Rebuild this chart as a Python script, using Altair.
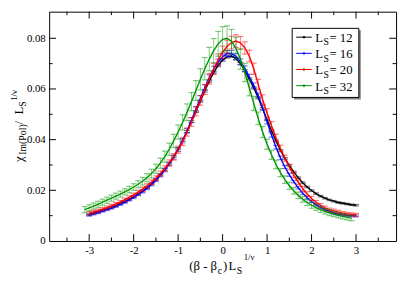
import altair as alt
import pandas as pd

# ---------------- data ----------------
series_names = ["12", "16", "20", "32"]
series_colors = ["#000000", "#0000ff", "#ff0000", "#009600"]

x_common = [-3.0, -2.9, -2.8, -2.7, -2.6, -2.5, -2.4, -2.3, -2.2, -2.1,
            -2.0, -1.9, -1.8, -1.7, -1.6, -1.5, -1.4, -1.3, -1.2, -1.1,
            -1.0, -0.9, -0.8, -0.7, -0.6, -0.5, -0.4, -0.3, -0.2, -0.1,
            0.0, 0.1, 0.2, 0.3, 0.4, 0.5, 0.6, 0.7, 0.8, 0.9,
            1.0, 1.1, 1.2, 1.3, 1.4, 1.5, 1.6, 1.7, 1.8, 1.9,
            2.0, 2.1, 2.2, 2.3, 2.4, 2.5, 2.6, 2.7, 2.8, 2.9, 3.0]
x_green = [-3.1, -3.0, -2.9, -2.8, -2.7, -2.6, -2.5, -2.4, -2.3, -2.2,
           -2.1, -2.0, -1.9, -1.8, -1.7, -1.6, -1.5, -1.4, -1.3, -1.2,
           -1.1, -1.0, -0.9, -0.8, -0.7, -0.6, -0.5, -0.4, -0.3, -0.2,
           -0.1, 0.0, 0.1, 0.2, 0.3, 0.4, 0.5, 0.6, 0.7, 0.8,
           0.9, 1.0, 1.1, 1.2, 1.3, 1.4, 1.5, 1.6, 1.7, 1.8,
           1.9, 2.0, 2.1, 2.2, 2.3, 2.4, 2.5, 2.6, 2.7, 2.8, 2.9]

y_12 = [0.0104, 0.0109, 0.0114, 0.0120, 0.0126, 0.0132, 0.0139, 0.0147, 0.0155, 0.0164,
        0.0174, 0.0185, 0.0197, 0.0210, 0.0225, 0.0242, 0.0261, 0.0282, 0.0306, 0.0333,
        0.0363, 0.0396, 0.0432, 0.0471, 0.0511, 0.0552, 0.0593, 0.0631, 0.0665, 0.0693,
        0.0714, 0.0727, 0.0730, 0.0720, 0.0700, 0.0672, 0.0640, 0.0604, 0.0565, 0.0522,
        0.0478, 0.0435, 0.0395, 0.0358, 0.0326, 0.0298, 0.0273, 0.0250, 0.0230, 0.0213,
        0.0199, 0.0187, 0.0177, 0.0169, 0.0162, 0.0157, 0.0152, 0.0149, 0.0146, 0.0143, 0.0141]
e_12 = [0.0003] * 20 + [0.0003, 0.0003, 0.0004, 0.0004, 0.0004, 0.0004, 0.0005, 0.0005, 0.0005, 0.0005,
                        0.0005, 0.0005, 0.0005, 0.0005, 0.0005, 0.0004, 0.0004, 0.0004, 0.0004, 0.0004] + [0.0003] * 21

y_16 = [0.0102, 0.0107, 0.0112, 0.0118, 0.0124, 0.0130, 0.0137, 0.0145, 0.0153, 0.0162,
        0.0172, 0.0183, 0.0195, 0.0208, 0.0223, 0.0240, 0.0259, 0.0280, 0.0304, 0.0331,
        0.0361, 0.0396, 0.0435, 0.0477, 0.0520, 0.0563, 0.0605, 0.0644, 0.0678, 0.0706,
        0.0727, 0.0740, 0.0740, 0.0728, 0.0708, 0.0680, 0.0648, 0.0614, 0.0574, 0.0526,
        0.0470, 0.0418, 0.0370, 0.0328, 0.0292, 0.0261, 0.0234, 0.0210, 0.0189, 0.0171,
        0.0156, 0.0143, 0.0133, 0.0124, 0.0117, 0.0110, 0.0106, 0.0103, 0.0101, 0.0100, 0.0099]
e_16 = [0.0004] * 10 + [0.0004, 0.0004, 0.0005, 0.0005, 0.0005, 0.0006, 0.0006, 0.0007, 0.0007, 0.0008,
                        0.0008, 0.0009, 0.0009, 0.0010, 0.0010, 0.0011, 0.0011, 0.0012, 0.0012, 0.0012,
                        0.0012, 0.0012, 0.0012, 0.0012, 0.0011, 0.0011, 0.0010, 0.0010, 0.0009, 0.0009,
                        0.0008, 0.0008, 0.0007, 0.0007, 0.0006, 0.0006, 0.0005, 0.0005, 0.0005, 0.0005] + [0.0004] * 11

y_20 = [0.0110, 0.0115, 0.0120, 0.0126, 0.0132, 0.0139, 0.0146, 0.0154, 0.0163, 0.0172,
        0.0182, 0.0193, 0.0205, 0.0218, 0.0232, 0.0248, 0.0266, 0.0286, 0.0308, 0.0332,
        0.0360, 0.0392, 0.0430, 0.0470, 0.0512, 0.0555, 0.0598, 0.0640, 0.0680, 0.0715,
        0.0745, 0.0768, 0.0783, 0.0789, 0.0782, 0.0762, 0.0730, 0.0680, 0.0618, 0.0558,
        0.0505, 0.0455, 0.0407, 0.0365, 0.0327, 0.0292, 0.0260, 0.0232, 0.0207, 0.0186,
        0.0168, 0.0153, 0.0141, 0.0131, 0.0123, 0.0119, 0.0114, 0.0110, 0.0107, 0.0105, 0.0103]
e_20 = [0.0006] * 10 + [0.0007, 0.0007, 0.0008, 0.0008, 0.0009, 0.0009, 0.0010, 0.0011, 0.0012, 0.0013,
                        0.0014, 0.0015, 0.0016, 0.0017, 0.0018, 0.0019, 0.0020, 0.0021, 0.0022, 0.0023,
                        0.0024, 0.0025, 0.0025, 0.0025, 0.0025, 0.0024, 0.0023, 0.0022, 0.0020, 0.0019,
                        0.0017, 0.0016, 0.0015, 0.0013, 0.0012, 0.0011, 0.0010, 0.0009, 0.0009, 0.0008,
                        0.0008, 0.0007, 0.0007, 0.0007, 0.0007, 0.0007, 0.0007, 0.0006, 0.0006, 0.0006, 0.0006]

y_32 = [0.0124, 0.0131, 0.0138, 0.0145, 0.0153, 0.0161, 0.0169, 0.0177, 0.0185, 0.0194,
        0.0203, 0.0213, 0.0224, 0.0236, 0.0250, 0.0266, 0.0285, 0.0307, 0.0333, 0.0362,
        0.0395, 0.0430, 0.0468, 0.0508, 0.0550, 0.0594, 0.0638, 0.0680, 0.0718, 0.0751,
        0.0778, 0.0796, 0.0800, 0.0788, 0.0760, 0.0718, 0.0665, 0.0605, 0.0543, 0.0484,
        0.0430, 0.0382, 0.0340, 0.0302, 0.0270, 0.0242, 0.0218, 0.0198, 0.0180, 0.0165,
        0.0152, 0.0141, 0.0132, 0.0124, 0.0117, 0.0111, 0.0106, 0.0101, 0.0097, 0.0093, 0.0090]
e_32 = [0.0012] * 10 + [0.0013, 0.0013, 0.0014, 0.0015, 0.0016, 0.0017, 0.0018,
                        0.0020, 0.0022, 0.0024, 0.0026, 0.0028, 0.0030, 0.0033, 0.0036, 0.0039, 0.0042,
                        0.0044, 0.0046, 0.0048, 0.0049, 0.0050,
                        0.0049, 0.0047, 0.0044, 0.0040, 0.0036, 0.0032, 0.0028, 0.0025, 0.0022, 0.0020,
                        0.0018, 0.0017, 0.0016, 0.0015, 0.0014,
                        0.0013, 0.0013, 0.0012, 0.0012, 0.0012, 0.0011, 0.0011, 0.0011, 0.0011,
                        0.0010, 0.0010, 0.0010, 0.0010, 0.0010]

series_x = [x_common, x_common, x_common, x_green]
series_y = [y_12, y_16, y_20, y_32]
series_e = [e_12, e_16, e_20, e_32]

x_major = [-3, -2, -1, 0, 1, 2, 3]
x_minor = [-3.5, -2.5, -1.5, -0.5, 0.5, 1.5, 2.5, 3.5]
y_major = [0.0, 0.02, 0.04, 0.06, 0.08]
y_minor = [0.01, 0.03, 0.05, 0.07]

# ---------------- layout ----------------
W, H = 354, 234
FONT = "Times New Roman, Liberation Serif, DejaVu Serif, serif"
MAJ, MIN = 7, 3.5

xs = alt.Scale(domain=[-3.9, 3.9], nice=False, zero=False)
ysc = alt.Scale(domain=[0, 0.0905], nice=False, zero=False)
xaxis = alt.Axis(values=x_major, labelExpr="'' + datum.value", ticks=False, domain=False,
                 grid=False, labelFont=FONT, labelFontSize=11, labelColor="black",
                 labelPadding=4, title=None)
yaxis = alt.Axis(values=y_major, labelExpr="datum.value == 0 ? '0' : format(datum.value, '.2f')",
                 ticks=False, domain=False, grid=False, labelFont=FONT, labelFontSize=11,
                 labelColor="black", labelPadding=4, title=None)

dummy = alt.Data(values=[{"a": 1}])
layers = []

for xv, yv, ev, col in zip(series_x, series_y, series_e, series_colors):
    df = pd.DataFrame({"x": xv, "y": yv})
    df["lo"] = [a - b for a, b in zip(yv, ev)]
    df["hi"] = [a + b for a, b in zip(yv, ev)]
    base = alt.Chart(df)
    X = alt.X("x:Q", scale=xs, axis=xaxis)
    layers.append(base.mark_rule(color=col, opacity=0.5, strokeWidth=1).encode(
        x=X, y=alt.Y("lo:Q", scale=ysc, axis=yaxis), y2="hi:Q"))
    for f in ["lo", "hi"]:
        layers.append(base.mark_tick(color=col, opacity=0.5, orient="horizontal",
                                     size=6, thickness=1.2).encode(
            x=X, y=alt.Y(f + ":Q", scale=ysc, axis=yaxis)))
    layers.append(base.mark_line(color=col, strokeWidth=1.4).encode(
        x=X, y=alt.Y("y:Q", scale=ysc, axis=yaxis)))

# inward ticks on all four sides
for vals, ln in [(x_major, MAJ), (x_minor, MIN)]:
    tdf = pd.DataFrame({"v": vals})
    X = alt.X("v:Q", scale=xs, axis=xaxis)
    layers.append(alt.Chart(tdf).mark_rule(color="black").encode(
        x=X, y=alt.value(H), y2=alt.value(H - ln)))
    layers.append(alt.Chart(tdf).mark_rule(color="black").encode(
        x=X, y=alt.value(0), y2=alt.value(ln)))
for vals, ln in [(y_major[1:], MAJ), (y_minor, MIN)]:
    tdf = pd.DataFrame({"v": vals})
    Y = alt.Y("v:Q", scale=ysc, axis=yaxis)
    layers.append(alt.Chart(tdf).mark_rule(color="black").encode(
        y=Y, x=alt.value(0), x2=alt.value(ln)))
    layers.append(alt.Chart(tdf).mark_rule(color="black").encode(
        y=Y, x=alt.value(W), x2=alt.value(W - ln)))


def txt(s, x, y, size, angle=0):
    kw = dict(text=s, font=FONT, fontSize=size, align="left", baseline="alphabetic", color="black")
    if angle:
        kw["angle"] = angle
    return alt.Chart(dummy).mark_text(**kw).encode(x=alt.value(x), y=alt.value(y))


# x title: (β - β_c) L_S^{1/ν}   (positions relative to the plot area)
xb = 264
layers += [txt("(β - β", 143, xb, 13), txt("c", 172, xb + 3.5, 10), txt(")", 177.5, xb, 13),
           txt("L", 183, xb, 13), txt("S", 191.5, xb + 3.5, 10), txt("1/ν", 198.5, xb - 11, 9)]

# y title: χ_Im(Pol) / L_S^{1/ν}  (rotated, reading upward)
ymain, ysub, ysup = -27, -24, -33
layers += [txt("χ", ymain, 153.5, 13, 270), txt("Im(Pol)", ysub, 146, 10, 270),
           txt(" / ", ymain, 115, 13, 270), txt("L", ymain, 105, 13, 270),
           txt("S", ysub, 97, 10, 270), txt("1/ν", ysup, 91, 9, 270)]

# legend box with shadow
layers.append(alt.Chart(dummy).mark_rect(color="#808080").encode(
    x=alt.value(250), x2=alt.value(318), y=alt.value(19), y2=alt.value(89.5)))
layers.append(alt.Chart(dummy).mark_rect(fill="white", stroke="black", strokeWidth=1).encode(
    x=alt.value(248), x2=alt.value(316), y=alt.value(17), y2=alt.value(87.5)))
for i, (name, col) in enumerate(zip(series_names, series_colors)):
    yc = 26 + 16.5 * i
    layers.append(alt.Chart(dummy).mark_rule(color=col, strokeWidth=1).encode(
        x=alt.value(252), x2=alt.value(268), y=alt.value(yc)))
    layers.append(alt.Chart(dummy).mark_point(color=col, filled=True, size=6, opacity=1).encode(
        x=alt.value(260), y=alt.value(yc)))
    layers += [txt("L", 271.5, yc + 5, 13), txt("S", 280, yc + 8.5, 10),
               txt(" = " + name, 286, yc + 5, 13)]

chart = alt.layer(*layers).properties(
    width=W, height=H,
    autosize=alt.AutoSizeParams(type="none"),
    padding={"left": 42, "top": 1, "right": 3, "bottom": 35},
    background="white",
).configure_view(stroke="black", strokeWidth=1)

chart.save("out.html", embed_options={"renderer": "svg", "actions": False})
